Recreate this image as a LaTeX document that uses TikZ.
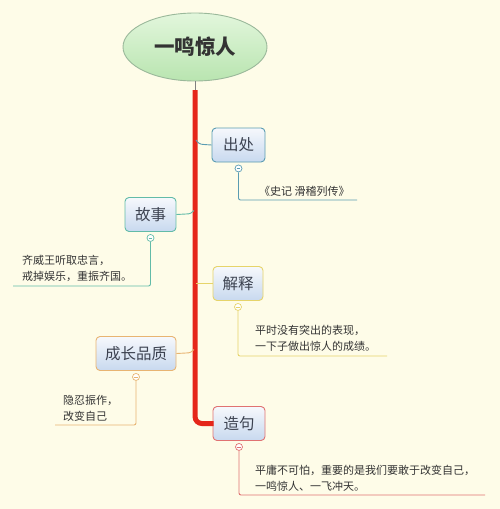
\documentclass[tikz,border=0pt]{standalone}
\usepackage{fontspec}
\setmainfont{Noto Sans CJK SC}
\usetikzlibrary{shapes.geometric}
\definecolor{bg}{HTML}{FEFCE8}
\definecolor{trunkred}{HTML}{E5261A}
\definecolor{ttlborder}{HTML}{9AB89A}
\definecolor{ttltop}{HTML}{E2F6DC}
\definecolor{ttlbot}{HTML}{B9E5B0}
\definecolor{boxtop}{HTML}{F6F8FC}
\definecolor{boxbot}{HTML}{C8D9EF}
\definecolor{cteal}{HTML}{5A9CB2}
\definecolor{cgreen}{HTML}{62BBA8}
\definecolor{cyellow}{HTML}{E6D46A}
\definecolor{corange}{HTML}{E8B472}
\definecolor{cred}{HTML}{E07272}
\definecolor{txt}{HTML}{333333}
\definecolor{lbl}{HTML}{3C4250}
\begin{document}
\begin{tikzpicture}[x=1pt,y=-1pt,
  topicbox/.style={draw=#1, line width=0.9pt, rounded corners=4pt, top color=boxtop, bottom color=boxbot,
    minimum height=34pt, inner sep=0pt, font=\fontsize{15.5}{15.5}\selectfont, text=lbl},
  knob/.style={circle, draw=#1, fill=white, line width=0.7pt, minimum size=7pt, inner sep=0pt,
    path picture={\draw[#1, line width=0.6pt] ([xshift=-1.8pt]path picture bounding box.center) -- ([xshift=1.8pt]path picture bounding box.center);}},
  leader/.style={draw=#1, line width=0.9pt},
  note/.style={font=\fontsize{11}{16}\selectfont, text=txt, align=left, inner sep=0pt, anchor=west}
]
\fill[bg] (0,0) rectangle (500,509);
\useasboundingbox (0,0) rectangle (500,509);

% title
\node[ellipse, draw=ttlborder, line width=0.9pt, top color=ttltop, bottom color=ttlbot,
  minimum width=144pt, minimum height=68pt, inner sep=0pt,
  font=\fontsize{20.5}{20.5}\selectfont\bfseries, text=txt] (title) at (195,47) {一鸣惊人};

% topic boxes
\node[topicbox=cteal, minimum width=53pt] (cc) at (238.5,145) {出处};
\node[topicbox=cgreen, minimum width=51pt] (gs) at (150.5,214.5) {故事};
\node[topicbox=cyellow, minimum width=50pt] (js) at (238,283.5) {解释};
\node[topicbox=corange, minimum width=80pt] (cz) at (136,353.5) {成长品质};
\node[topicbox=cred, minimum width=52pt] (zj) at (239,423.5) {造句};

% trunk
\coordinate (ttop) at (195,90);
\draw[gray, line width=0.8pt] (title.south) -- (ttop);
\draw[trunkred, line width=5pt, rounded corners=7pt] (ttop) |- ([xshift=1pt]zj.west);

% branches
\coordinate (t1) at (196,140);
\coordinate (t2) at (194,210.5);
\coordinate (t3) at (196,283.5);
\coordinate (t4) at (194,349.5);
\draw[cteal, line width=0.9pt] (t1) .. controls (198,143) and (200,144.5) .. (204,144.5) -- (cc.west);
\draw[cgreen, line width=0.9pt] (t2) .. controls (192,213) and (190,214) .. (186,214) -- (gs.east);
\draw[cyellow, line width=0.9pt] (t3) -- (js.west);
\draw[corange, line width=0.9pt] (t4) .. controls (192,352) and (190,353) .. (186,353) -- (cz.east);

% knobs
\node[knob=cteal] (k1) at ([yshift=-6pt]cc.south) {};
\node[knob=cgreen] (k2) at ([yshift=-6pt]gs.south) {};
\node[knob=cyellow] (k3) at ([yshift=-6pt]js.south) {};
\node[knob=corange] (k4) at ([yshift=-6pt]cz.south) {};
\node[knob=cred] (k5) at ([yshift=-6pt]zj.south) {};

% leaders
\coordinate (e1) at (357,200);
\coordinate (e2) at (13,286);
\coordinate (e3) at (387,356);
\coordinate (e4) at (55,425);
\coordinate (e5) at (485,495);
\draw[leader=cteal, rounded corners=2pt] (k1.south) |- (e1);
\draw[leader=cgreen, rounded corners=2pt] (k2.south) |- (e2);
\draw[leader=cyellow, rounded corners=2pt] (k3.south) |- (e3);
\draw[leader=corange, rounded corners=2pt] (k4.south) |- (e4);
\draw[leader=cred, rounded corners=2pt] (k5.south) |- (e5);

% notes
\node[note] (n1) at (259,191) {《史记 滑稽列传》};
\node[note] (n2) at (22,268) {齐威王听取忠言，\\戒掉娱乐，重振齐国。};
\node[note] (n3) at (255,338.5) {平时没有突出的表现，\\一下子做出惊人的成绩。};
\node[note] (n4) at (63,408) {隐忍振作，\\改变自己};
\node[note] (n5) at (255,478.5) {平庸不可怕，重要的是我们要敢于改变自己，\\一鸣惊人、一飞冲天。};
\end{tikzpicture}
\end{document}
